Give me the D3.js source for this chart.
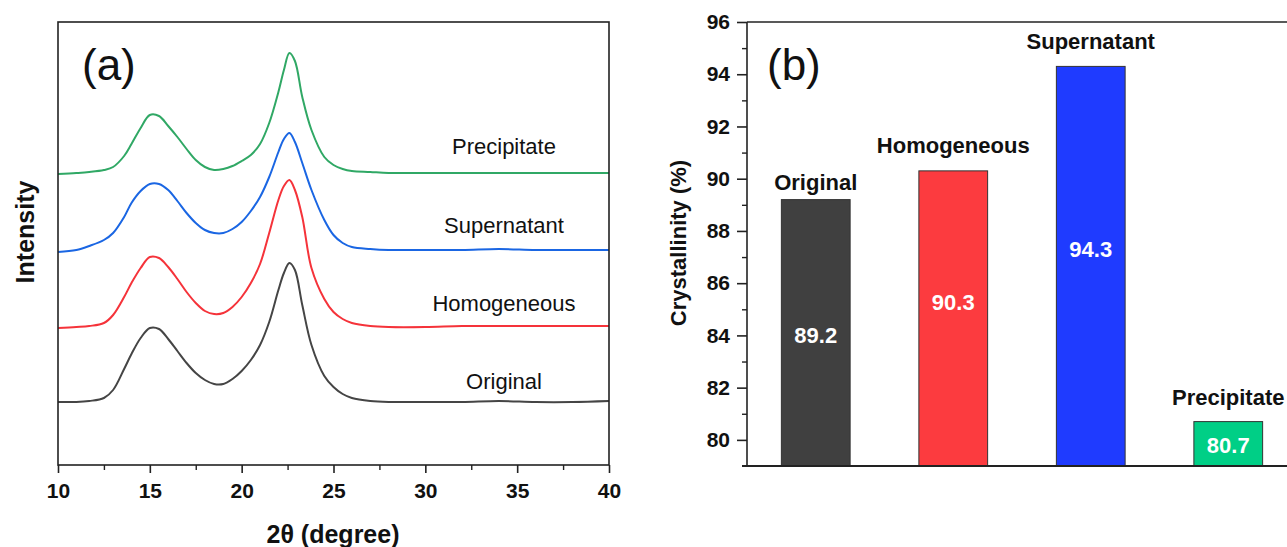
<!DOCTYPE html>
<html>
<head>
<meta charset="utf-8">
<script src="https://cdnjs.cloudflare.com/ajax/libs/d3/7.8.5/d3.min.js"></script>
<style>
body { margin: 0; background: #fff; }
text { font-family: "Liberation Sans", Arial, sans-serif; }
</style>
</head>
<body>
<svg id="chart" width="1287" height="547"></svg>
<script>
// ---- panel (a): XRD patterns (intensity in a.u., curves already stacked)
var twoTheta = [10, 11, 11.7, 12.5, 13, 13.6, 14, 14.5, 15, 15.5, 16, 16.5, 17, 17.5, 18, 18.5, 19, 19.5, 20, 20.5,
                21, 21.5, 22, 22.3, 22.6, 22.9, 23.3, 23.8, 24.5, 25, 25.5, 26, 27, 28, 30, 32, 34, 36, 38, 40];
var original    = [63, 63, 64, 67, 75, 96, 111, 127, 137, 136, 126, 114, 102, 92, 85, 81, 81, 86, 94, 105,
                   120, 143, 175, 192, 202, 195, 160, 120, 89, 78, 71, 67, 64, 63, 63, 63, 64, 63, 63, 64];
var homogeneous = [137, 138, 139, 142, 150, 168, 182, 197, 208, 207, 198, 186, 173, 162, 154, 151, 152, 158, 168, 182,
                   201, 232, 265, 279, 285, 275, 248, 197, 166, 153, 146, 142, 139, 138, 138, 139, 139, 139, 139, 139];
var supernatant = [213, 215, 219, 225, 232, 248, 262, 274, 281, 281, 275, 264, 252, 242, 235, 232, 232, 236, 243, 254,
                   268, 288, 313, 326, 332, 323, 302, 275, 245, 230, 222, 218, 216, 215, 215, 215, 216, 215, 215, 215];
var precipitate = [291, 292, 293, 295, 298, 309, 321, 337, 350, 349, 339, 328, 316, 305, 298, 295, 296, 299, 304, 310,
                   321, 342, 373, 395, 412, 404, 368, 335, 308, 300, 296, 294, 293, 292, 292, 292, 292, 292, 292, 292];
var seriesNames = ["Original", "Homogeneous", "Supernatant", "Precipitate"];
var xTicks = [10, 15, 20, 25, 30, 35, 40];
var xMinorTicks = [12.5, 17.5, 22.5, 27.5, 32.5, 37.5];

// ---- panel (b): crystallinity
var categories = ["Original", "Homogeneous", "Supernatant", "Precipitate"];
var crystallinity = [89.2, 90.3, 94.3, 80.7];
var yTicks = [80, 82, 84, 86, 88, 90, 92, 94, 96];
var yMinorTicks = [81, 83, 85, 87, 89, 91, 93, 95];

// layout / style (not data)
var lineColors = ["#454545", "#f5333a", "#1a66e3", "#30a865"];
var barColors = ["#404040", "#fc3b3f", "#1f3bff", "#00cf86"];
var seriesLabelY = [389, 311, 233, 154];
var nameGap = [10, 18, 17, 17];
var valueLabelY = [343, 310, 257, 453];

var svg = d3.select("#chart");

// ================= panel (a)
var xA = d3.scaleLinear().domain([10, 40]).range([58, 609]);
var yA = d3.scaleLinear().domain([0, 443]).range([465, 22]);

var allSeries = [original, homogeneous, supernatant, precipitate];

var line = d3.line()
    .x(function(d) { return xA(d[0]); })
    .y(function(d) { return yA(d[1]); })
    .curve(d3.curveCatmullRom.alpha(0.5));

svg.selectAll("path.xrd")
    .data(allSeries)
    .enter()
    .append("path")
    .attr("class", "xrd")
    .attr("d", function(s) {
        return line(twoTheta.map(function(t, i) { return [t, s[i]]; }));
    })
    .attr("fill", "none")
    .attr("stroke", function(d, i) { return lineColors[i]; })
    .attr("stroke-width", 2);

svg.selectAll("text.series")
    .data(seriesNames)
    .enter()
    .append("text")
    .attr("class", "series")
    .attr("x", 504)
    .attr("y", function(d, i) { return seriesLabelY[i]; })
    .attr("text-anchor", "middle")
    .attr("font-size", 22)
    .attr("fill", "#111")
    .text(function(d) { return d; });

// frame
svg.append("rect")
    .attr("x", 58).attr("y", 22)
    .attr("width", 609 - 58).attr("height", 465 - 22)
    .attr("fill", "none")
    .attr("stroke", "#222")
    .attr("stroke-width", 1.6);

var xAxis = svg.append("g")
    .attr("transform", "translate(0,465)")
    .call(d3.axisBottom(xA).tickValues(xTicks).tickSize(8).tickPadding(10).tickFormat(d3.format("d")));
xAxis.select(".domain").remove();
xAxis.selectAll("line").attr("stroke", "#222").attr("stroke-width", 1.6);
xAxis.selectAll("text")
    .attr("font-size", 21).attr("font-weight", "bold").attr("fill", "#111")
    .attr("font-family", "Liberation Sans, Arial, sans-serif");

var xMinor = svg.append("g")
    .attr("transform", "translate(0,465)")
    .call(d3.axisBottom(xA).tickValues(xMinorTicks).tickSize(5).tickFormat(""));
xMinor.select(".domain").remove();
xMinor.selectAll("line").attr("stroke", "#222").attr("stroke-width", 1.4);

svg.append("text")
    .attr("x", 333).attr("y", 543)
    .attr("text-anchor", "middle")
    .attr("font-size", 25).attr("font-weight", "bold").attr("fill", "#111")
    .text("2θ (degree)");

svg.append("text")
    .attr("transform", "translate(34,232) rotate(-90)")
    .attr("text-anchor", "middle")
    .attr("font-size", 25).attr("font-weight", "bold").attr("fill", "#111")
    .text("Intensity");

svg.append("text")
    .attr("x", 82).attr("y", 80)
    .attr("font-size", 44).attr("fill", "#111")
    .text("(a)");

// ================= panel (b)
var xB = d3.scaleBand().domain(categories).range([747, 1297]).paddingInner(0.5).paddingOuter(0.25);
var yB = d3.scaleLinear().domain([79, 96]).range([466, 22]);

svg.selectAll("rect.bar")
    .data(crystallinity)
    .enter()
    .append("rect")
    .attr("class", "bar")
    .attr("x", function(d, i) { return xB(categories[i]); })
    .attr("y", function(d) { return yB(d); })
    .attr("width", xB.bandwidth())
    .attr("height", function(d) { return yB(79) - yB(d); })
    .attr("fill", function(d, i) { return barColors[i]; })
    .attr("stroke", "#333")
    .attr("stroke-width", 1);

svg.selectAll("text.cat")
    .data(categories)
    .enter()
    .append("text")
    .attr("class", "cat")
    .attr("x", function(d) { return xB(d) + xB.bandwidth() / 2; })
    .attr("y", function(d, i) { return yB(crystallinity[i]) - nameGap[i]; })
    .attr("text-anchor", "middle")
    .attr("font-size", 22).attr("font-weight", "bold").attr("fill", "#111")
    .text(function(d) { return d; });

svg.selectAll("text.val")
    .data(crystallinity)
    .enter()
    .append("text")
    .attr("class", "val")
    .attr("x", function(d, i) { return xB(categories[i]) + xB.bandwidth() / 2; })
    .attr("y", function(d, i) { return valueLabelY[i]; })
    .attr("text-anchor", "middle")
    .attr("font-size", 22).attr("font-weight", "bold").attr("fill", "#fff")
    .text(function(d) { return d.toFixed(1); });

// frame lines (right side runs off the picture)
svg.append("line").attr("x1", 747).attr("x2", 1297).attr("y1", 22).attr("y2", 22)
    .attr("stroke", "#222").attr("stroke-width", 1.6);
svg.append("line").attr("x1", 742).attr("x2", 1297).attr("y1", 466).attr("y2", 466)
    .attr("stroke", "#222").attr("stroke-width", 1.8);

var yAxis = svg.append("g")
    .attr("transform", "translate(747,0)")
    .call(d3.axisLeft(yB).tickValues(yTicks).tickSize(10).tickPadding(7).tickFormat(d3.format("d")));
yAxis.select(".domain").attr("stroke", "#222").attr("stroke-width", 1.6).attr("d", "M0,22V466");
yAxis.selectAll("line").attr("stroke", "#222").attr("stroke-width", 1.6);
yAxis.selectAll("text")
    .attr("font-size", 21).attr("font-weight", "bold").attr("fill", "#111")
    .attr("font-family", "Liberation Sans, Arial, sans-serif");

var yMinor = svg.append("g")
    .attr("transform", "translate(747,0)")
    .call(d3.axisLeft(yB).tickValues(yMinorTicks).tickSize(5).tickFormat(""));
yMinor.select(".domain").remove();
yMinor.selectAll("line").attr("stroke", "#222").attr("stroke-width", 1.4);

svg.append("text")
    .attr("transform", "translate(686,243) rotate(-90)")
    .attr("text-anchor", "middle")
    .attr("font-size", 22).attr("font-weight", "bold").attr("fill", "#111")
    .text("Crystallinity (%)");

svg.append("text")
    .attr("x", 767).attr("y", 80)
    .attr("font-size", 44).attr("fill", "#111")
    .text("(b)");
</script>
</body>
</html>
